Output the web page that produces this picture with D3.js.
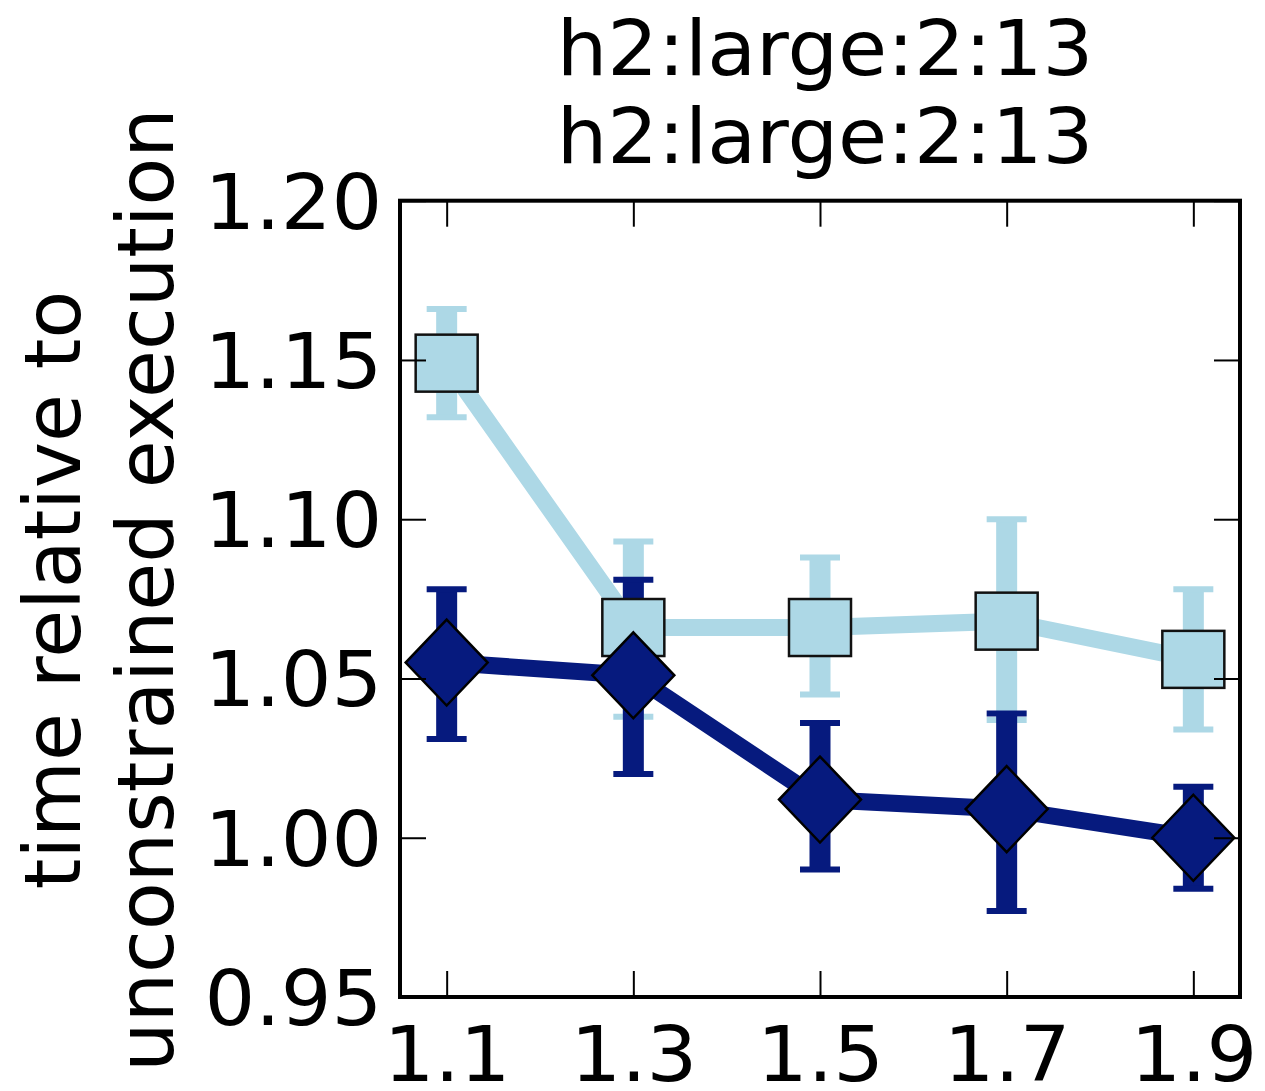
<!DOCTYPE html>
<html>
<head>
<meta charset="utf-8">
<script src="https://cdn.jsdelivr.net/npm/d3@7"></script>
<style>
  html, body { margin: 0; padding: 0; background: #fff; }
  svg { display: block; }
  text { font-family: "DejaVu Sans", sans-serif; fill: #000; }
</style>
</head>
<body>
<svg id="chart" width="1265" height="1091"></svg>
<script>
// ---- data ----
const xValues = [1.1, 1.3, 1.5, 1.7, 1.9];
const xTicks = [1.1, 1.3, 1.5, 1.7, 1.9];
const yTicks = [0.95, 1.00, 1.05, 1.10, 1.15, 1.20];
const titleLines = ["h2:large:2:13", "h2:large:2:13"];
const yLabelLines = ["time relative to", "unconstrained execution"];

const lightMean = [1.149, 1.066, 1.066, 1.068, 1.056];
const lightLow  = [1.132, 1.038, 1.045, 1.037, 1.034];
const lightHigh = [1.166, 1.093, 1.088, 1.100, 1.078];

const darkMean = [1.055, 1.051, 1.012, 1.009, 1.000];
const darkLow  = [1.031, 1.020, 0.990, 0.977, 0.984];
const darkHigh = [1.078, 1.081, 1.036, 1.039, 1.016];

(function () {
// ---- layout ----
const pLeft = 400, pRight = 1240, pTop = 200.7, pBottom = 997;
const FS = 76, SX = 1.05;

const svg = d3.select("#chart");
const x = d3.scaleLinear().domain([1.05, 1.95]).range([pLeft, pRight]);
const y = d3.scaleLinear().domain([0.95, 1.20]).range([pBottom, pTop]);

const series = [
  { name: "light", color: "#add8e6", mean: lightMean, low: lightLow, high: lightHigh, marker: "square" },
  { name: "dark",  color: "#061a7e", mean: darkMean,  low: darkLow,  high: darkHigh,  marker: "diamond" }
];

function rows(s) {
  return xValues.map((v, i) => ({ x: v, m: s.mean[i], lo: s.low[i], hi: s.high[i] }));
}

// error bars (below all data lines)
series.forEach(s => {
  const g = svg.append("g").attr("class", "err-" + s.name);
  const d = rows(s);
  g.selectAll("line.bar").data(d).join("line").attr("class", "bar")
    .attr("x1", r => x(r.x)).attr("x2", r => x(r.x))
    .attr("y1", r => y(r.lo)).attr("y2", r => y(r.hi))
    .attr("stroke", s.color).attr("stroke-width", 21);
  ["lo", "hi"].forEach(k => {
    g.selectAll("line.cap" + k).data(d).join("line").attr("class", "cap" + k)
      .attr("x1", r => x(r.x) - 20).attr("x2", r => x(r.x) + 20)
      .attr("y1", r => y(r[k])).attr("y2", r => y(r[k]))
      .attr("stroke", s.color).attr("stroke-width", 6);
  });
});

// data lines + markers
const line = d3.line().x(r => x(r.x)).y(r => y(r.m));
series.forEach(s => {
  const g = svg.append("g").attr("class", "data-" + s.name);
  const d = rows(s);
  g.append("path").datum(d).attr("d", line)
    .attr("fill", "none").attr("stroke", s.color).attr("stroke-width", 17)
    .attr("stroke-linejoin", "miter");
  if (s.marker === "square") {
    g.selectAll("rect").data(d).join("rect")
      .attr("x", r => x(r.x) - 31).attr("y", r => y(r.m) - 28.5)
      .attr("width", 62).attr("height", 57)
      .attr("fill", s.color).attr("stroke", "#111").attr("stroke-width", 2.5);
  } else {
    g.selectAll("path.dia").data(d).join("path").attr("class", "dia")
      .attr("d", r => {
        const cx = x(r.x), cy = y(r.m), hw = 41, hh = 43;
        return `M${cx},${cy - hh}L${cx + hw},${cy}L${cx},${cy + hh}L${cx - hw},${cy}Z`;
      })
      .attr("fill", s.color).attr("stroke", "#000").attr("stroke-width", 2.5);
  }
});

// axes (ticks inward on all four sides)
const tickLen = 26;
function styleAxis(g) {
  g.select(".domain").remove();
  g.selectAll(".tick line").attr("stroke", "#000").attr("stroke-width", 2);
}
const xAxisB = svg.append("g").attr("transform", `translate(0,${pBottom})`)
  .call(d3.axisBottom(x).tickValues(xTicks).tickSize(-tickLen).tickPadding(30).tickFormat(d3.format(".1f")));
styleAxis(xAxisB);
xAxisB.selectAll("text").attr("font-size", FS).attr("font-family", "DejaVu Sans")
  .attr("fill", "#000").attr("y", 0).attr("dy", null).attr("transform", `translate(0,84) scale(${SX},1)`);

const xAxisT = svg.append("g").attr("transform", `translate(0,${pTop})`)
  .call(d3.axisTop(x).tickValues(xTicks).tickSize(-tickLen).tickFormat(""));
styleAxis(xAxisT);

const yAxisL = svg.append("g").attr("transform", `translate(${pLeft},0)`)
  .call(d3.axisLeft(y).tickValues(yTicks).tickSize(-tickLen).tickPadding(17).tickFormat(d3.format(".2f")));
styleAxis(yAxisL);
yAxisL.selectAll("text").attr("font-size", FS).attr("font-family", "DejaVu Sans")
  .attr("fill", "#000").attr("dy", "0.36em").attr("transform", `scale(${SX},1)`);

const yAxisR = svg.append("g").attr("transform", `translate(${pRight},0)`)
  .call(d3.axisRight(y).tickValues(yTicks).tickSize(-tickLen).tickFormat(""));
styleAxis(yAxisR);

// frame
svg.append("rect").attr("x", pLeft).attr("y", pTop)
  .attr("width", pRight - pLeft).attr("height", pBottom - pTop)
  .attr("fill", "none").attr("stroke", "#000").attr("stroke-width", 4);

// title
const tcx = (pLeft + pRight) / 2 + 5;
titleLines.forEach((t, i) => {
  svg.append("text").text(t)
    .attr("text-anchor", "middle").attr("font-size", FS)
    .attr("transform", `translate(${tcx},${75 + i * 88}) scale(${SX},1)`);
});

// y label (two lines, rotated)
const lcy = 590;
const yBase = [80, 173];
yLabelLines.forEach((t, i) => {
  svg.append("text").text(t)
    .attr("text-anchor", "middle").attr("font-size", 78)
    .attr("transform", `translate(${yBase[i]},${lcy}) rotate(-90)`);
});
})();
</script>
</body>
</html>
